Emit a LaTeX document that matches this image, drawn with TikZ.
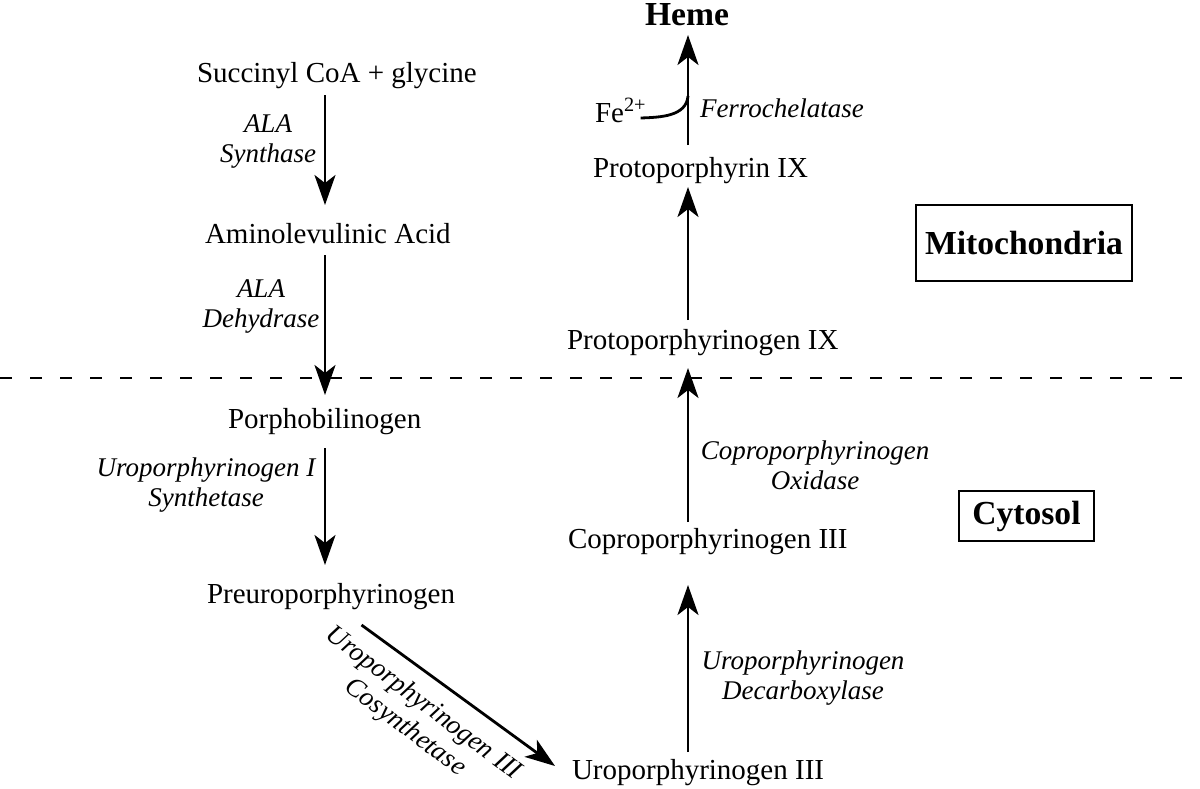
\documentclass[tikz,border=0pt]{standalone}
\usepackage{fontspec}
\setmainfont{Liberation Serif}
\usetikzlibrary{arrows.meta,calc}
\tikzset{
  every node/.style={inner sep=0pt, outer sep=0pt},
  cmp/.style={font=\fontsize{14.5}{16}\selectfont, text height=10pt, text depth=3pt, anchor=base west},
  enz/.style={font=\fontsize{13.5}{15}\selectfont\itshape, align=center},
  arr/.style={line width=1.4pt, -{Stealth[length=15pt,width=10.5pt,inset=4pt]}},
  boxlabel/.style={draw, line width=1.1pt, font=\fontsize{16.8}{19}\selectfont\bfseries},
}
\begin{document}
\begin{tikzpicture}[x=0.5pt,y=-0.5pt]
\useasboundingbox (0,0) rectangle (1200,788);
% compounds
\node[cmp] (succ) at (197,82) {Succinyl CoA + glycine};
\node[cmp] (ala) at (205,243) {Aminolevulinic Acid};
\node[cmp] (pbg) at (228,428) {Porphobilinogen};
\node[cmp] (preuro) at (207,603) {Preuroporphyrinogen};
\node[cmp] (uro3) at (572,779) {Uroporphyrinogen III};
\node[cmp] (copro) at (568,548) {Coproporphyrinogen III};
\node[cmp] (protogen) at (567,349) {Protoporphyrinogen IX};
\node[cmp] (proto) at (593,177) {Protoporphyrin IX};
\node[font=\fontsize{16.8}{19}\selectfont\bfseries, text height=11pt, text depth=0pt, anchor=base] (heme) at (687,25) {Heme};
\node[font=\fontsize{14.5}{16}\selectfont, anchor=base west] (fe) at (595,122) {Fe\textsuperscript{2+}};
% enzymes
\node[enz] (e1) at (268,141) {ALA\\Synthase};
\node[enz] (e2) at (261,306) {ALA\\Dehydrase};
\node[enz] (e3) at (206,485) {Uroporphyrinogen I\\Synthetase};
\node[enz, rotate=-37] (e4) at (414,716) {Uroporphyrinogen III\\Cosynthetase};
\node[enz] (e5) at (803,678) {Uroporphyrinogen\\Decarboxylase};
\node[enz] (e6) at (815,465) {Coproporphyrinogen\\Oxidase};
\node[enz, anchor=base west] (e7) at (700,117) {Ferrochelatase};
% compartments
\node[boxlabel, minimum width=108pt, minimum height=38pt] (mito) at (1024,243) {Mitochondria};
\node[boxlabel, minimum width=67.5pt, minimum height=25pt] (cyto) at (1026.5,516) {Cytosol};
\coordinate (dl) at (0,378);
\coordinate (dr) at (1200,378);
\draw[line width=1.25pt, dash pattern=on 6pt off 9pt] (dl) -- (dr);
% x positions of arrows
\coordinate (xl) at (325,0);
\coordinate (xr) at (688,0);
% arrows
\draw[arr, shorten <=3.5pt, shorten >=9pt] (succ.south -| xl) -- (ala.north -| xl);
\draw[arr, shorten <=3pt, shorten >=6.5pt] (ala.south -| xl) -- (pbg.north -| xl);
\draw[arr, shorten <=7pt, shorten >=9pt] (pbg.south -| xl) -- (preuro.north -| xl);
\draw[arr] ($(preuro.south)+(30.5,16)$) -- ($(uro3.west)+(-17,-6)$);
\draw[arr, shorten <=3.5pt, shorten >=15.5pt] (uro3.north -| xr) -- (copro.south -| xr);
\draw[arr, shorten <=3pt, shorten >=6.5pt] (copro.north -| xr) -- (protogen.south -| xr);
\draw[arr, shorten <=4.5pt, shorten >=2pt] (protogen.north -| xr) -- (proto.south -| xr);
\draw[arr, shorten <=6pt, shorten >=5pt] (proto.north -| xr) -- (heme.south -| xr);
\coordinate (join) at (688,96);
\draw[line width=1.4pt] ($(fe.base east)+(-6,-4)$) to[out=2, in=-95] (join);
\end{tikzpicture}
\end{document}
